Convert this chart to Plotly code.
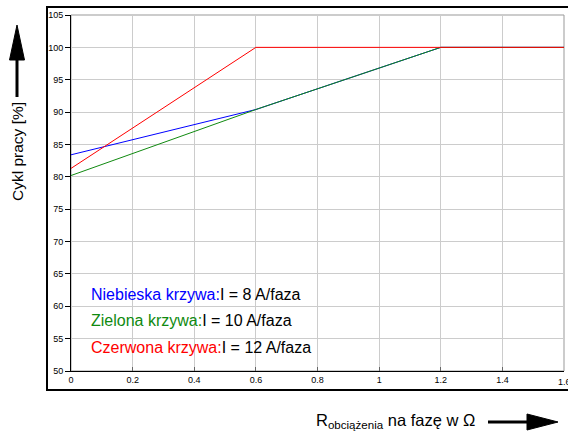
import plotly.graph_objects as go

# Data
x_blue = [0, 0.6, 1.2, 1.6]
y_blue = [83.4, 90.4, 100, 100]
x_green = [0, 0.6, 1.2, 1.6]
y_green = [80.2, 90.4, 100, 100]
x_red = [0, 0.6, 1.6]
y_red = [81.3, 100, 100]
x_ticks = [0, 0.2, 0.4, 0.6, 0.8, 1.0, 1.2, 1.4, 1.6]
x_ticklabels = ["0", "0.2", "0.4", "0.6", "0.8", "1", "1.2", "1.4", "1.6"]

W, H = 568, 436
L, R, T, B = 71, 564, 15, 371
FONT = "Arial, Liberation Sans, sans-serif"


def px(x):
    return (x - L) / (R - L)


def py(y):
    return (B - y) / (B - T)


fig = go.Figure()
fig.add_trace(go.Scatter(x=x_blue, y=y_blue, mode="lines", line=dict(color="#0000ff", width=1), showlegend=False))
fig.add_trace(go.Scatter(x=x_green, y=y_green, mode="lines", line=dict(color="#108a10", width=1), showlegend=False))
fig.add_trace(go.Scatter(x=x_red, y=y_red, mode="lines", line=dict(color="#ff0000", width=1), showlegend=False))

shapes = []
# outer black frame
shapes.append(dict(type="rect", xref="paper", yref="paper",
                   x0=px(47), x1=px(575), y0=py(390), y1=py(7),
                   line=dict(color="black", width=2), layer="below"))
# plot area gray frame (top/right)
shapes.append(dict(type="rect", xref="paper", yref="paper",
                   x0=0, x1=1, y0=0, y1=1,
                   line=dict(color="#999999", width=1), layer="below"))
# y arrow
shapes.append(dict(type="line", xref="paper", yref="paper",
                   x0=px(17), x1=px(17), y0=py(97), y1=py(58),
                   line=dict(color="black", width=3)))
shapes.append(dict(type="path", xref="paper", yref="paper",
                   path=f"M {px(9.5)} {py(60)} L {px(24.5)} {py(60)} L {px(17)} {py(25)} Z",
                   fillcolor="black", line=dict(color="black", width=1)))
# x arrow
shapes.append(dict(type="line", xref="paper", yref="paper",
                   x0=px(488), x1=px(529), y0=py(422), y1=py(422),
                   line=dict(color="black", width=3)))
shapes.append(dict(type="path", xref="paper", yref="paper",
                   path=f"M {px(527)} {py(414)} L {px(527)} {py(430)} L {px(558)} {py(422)} Z",
                   fillcolor="black", line=dict(color="black", width=1)))

annotations = [
    dict(xref="paper", yref="paper", x=px(17), y=py(152), text="Cykl pracy [%]",
         textangle=-90, showarrow=False, font=dict(family=FONT, size=15.5, color="black"),
         xanchor="center", yanchor="middle"),
    dict(xref="paper", yref="paper", x=px(314), y=py(421),
         text="R<sub>obciążenia</sub> na fazę w Ω",
         showarrow=False, font=dict(family=FONT, size=16.5, color="black"),
         xanchor="left", yanchor="middle"),
    dict(xref="paper", yref="paper", x=px(89), y=py(294),
         text='<span style="color:#0000ff">Niebieska krzywa:</span>I = 8 A/faza',
         showarrow=False, font=dict(family=FONT, size=16, color="black"),
         xanchor="left", yanchor="middle"),
    dict(xref="paper", yref="paper", x=px(89), y=py(320),
         text='<span style="color:#108a10">Zielona krzywa:</span>I = 10 A/faza',
         showarrow=False, font=dict(family=FONT, size=16, color="black"),
         xanchor="left", yanchor="middle"),
    dict(xref="paper", yref="paper", x=px(89), y=py(347),
         text='<span style="color:#ff0000">Czerwona krzywa:</span>I = 12 A/faza',
         showarrow=False, font=dict(family=FONT, size=16, color="black"),
         xanchor="left", yanchor="middle"),
    # last x tick label (drawn at the axis end, partly cut by the page edge)
    dict(xref="x", yref="paper", x=x_ticks[-1], y=py(382), text=x_ticklabels[-1],
         showarrow=False, font=dict(family=FONT, size=9, color="black"),
         xanchor="center", yanchor="middle"),
]

fig.update_layout(
    width=W, height=H,
    margin=dict(l=L, r=W - R, t=T, b=H - B, pad=0),
    paper_bgcolor="white", plot_bgcolor="white",
    font=dict(family=FONT, size=9, color="black"),
    shapes=shapes, annotations=annotations,
    xaxis=dict(range=[0, 1.6], tickvals=x_ticks[:-1], ticktext=x_ticklabels[:-1],
               showgrid=True, gridcolor="#cccccc", gridwidth=1,
               zeroline=False, showline=True, linecolor="black", linewidth=1,
               ticks="inside", ticklen=4, tickcolor="#666666",
               tickfont=dict(family=FONT, size=9, color="black")),
    yaxis=dict(range=[50, 105], dtick=5, tick0=50, showgrid=True, gridcolor="#cccccc", gridwidth=1,
               zeroline=False, showline=True, linecolor="black", linewidth=1,
               ticks="outside", ticklen=5, tickcolor="black",
               tickfont=dict(family=FONT, size=9, color="black")),
)

fig.write_html("out.html")
